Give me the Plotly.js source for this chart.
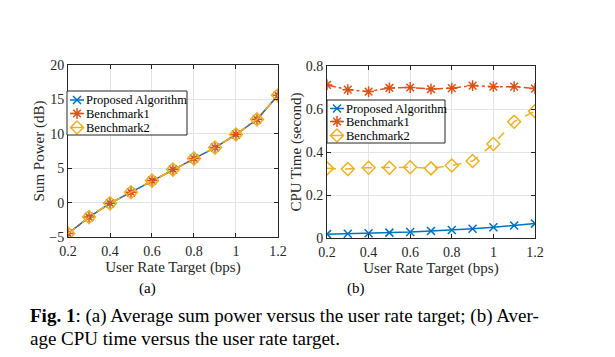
<!DOCTYPE html>
<html>
<head>
<meta charset="utf-8">
<script src="https://cdn.plot.ly/plotly-3.0.1.min.js"></script>
<style>
  html, body { margin: 0; padding: 0; background: #fff; }
  #chart { width: 615px; height: 357px; }
</style>
</head>
<body>
<div id="chart"></div>
<script>
// user rate target (bps)
var rateTarget = [0.2, 0.3, 0.4, 0.5, 0.6, 0.7, 0.8, 0.9, 1.0, 1.1, 1.2];

// (a) sum power (dB)
var powerProposed = [-4.5, -2.1, -0.1, 1.5, 3.2, 4.8, 6.4, 8.0, 9.9, 12.1, 15.6];
var powerBench1   = [-4.5, -2.1, -0.1, 1.5, 3.2, 4.8, 6.4, 8.0, 9.9, 12.1, 15.6];
var powerBench2   = [-4.5, -2.1, -0.1, 1.5, 3.2, 4.8, 6.4, 8.0, 9.9, 12.1, 15.6];

// (b) cpu time (second)
var cpuProposed = [0.018, 0.020, 0.022, 0.025, 0.028, 0.033, 0.037, 0.043, 0.050, 0.058, 0.067];
var cpuBench1   = [0.712, 0.690, 0.681, 0.698, 0.700, 0.693, 0.697, 0.709, 0.704, 0.704, 0.695];
var cpuBench2   = [0.324, 0.321, 0.327, 0.327, 0.329, 0.324, 0.337, 0.358, 0.437, 0.541, 0.590];

var seriesNames = ["Proposed Algorithm", "Benchmark1", "Benchmark2"];

var xTicks = [0.2, 0.4, 0.6, 0.8, 1, 1.2];
var xTickText = ["0.2", "0.4", "0.6", "0.8", "1", "1.2"];
var yTicksA = [-5, 0, 5, 10, 15, 20];
var yTicksB = [0, 0.2, 0.4, 0.6, 0.8];
var yTickTextB = ["0", "0.2", "0.4", "0.6", "0.8"];

var colors = ["#0072BD", "#D95319", "#EDB120"];
var dashes = ["solid", "dashdot", "dash"];
var symbols = ["x-thin-open", "asterisk-open", "diamond-open"];
var sizes = [8, 9, 10];
var serif = "Liberation Serif";

function mk(y, i, xa, ya) {
  return {
    x: rateTarget, y: y, name: seriesNames[i], xaxis: xa, yaxis: ya,
    type: "scatter", mode: "lines+markers", showlegend: false,
    line: {color: colors[i], width: 1.5, dash: dashes[i]},
    marker: {symbol: symbols[i], size: sizes[i], color: colors[i], line: {color: colors[i], width: 1.5}}
  };
}

var data = [
  mk(powerProposed, 0, "x", "y"),
  mk(powerBench1, 1, "x", "y"),
  mk(powerBench2, 2, "x", "y"),
  mk(cpuProposed, 0, "x2", "y2"),
  mk(cpuBench1, 1, "x2", "y2"),
  mk(cpuBench2, 2, "x2", "y2")
];

// compact MATLAB-style legends, drawn on small hidden axes (x3/y3 and x4/y4)
var annotations = [];
var shapes = [];
function legendBox(xa, ya, w, h, rows, px) {
  data.push({
    x: [0, w, w, 0, 0], y: [0, 0, h, h, 0], xaxis: xa, yaxis: ya,
    type: "scatter", mode: "lines", fill: "toself", fillcolor: "#ffffff",
    line: {color: "#ffffff", width: 0}, showlegend: false
  });
  shapes.push({type: "rect", xref: "paper", yref: "paper", layer: "above",
    x0: px[0] / 615, x1: px[1] / 615, y0: 1 - px[3] / 357, y1: 1 - px[2] / 357,
    line: {color: "#262626", width: 1}, fillcolor: "rgba(0,0,0,0)"});
  for (var i = 0; i < 3; i++) {
    data.push({
      x: [3, 17], y: [rows[i], rows[i]], xaxis: xa, yaxis: ya,
      type: "scatter", mode: "lines", showlegend: false,
      line: {color: colors[i], width: 1.5}
    });
    data.push({
      x: [10], y: [rows[i]], xaxis: xa, yaxis: ya,
      type: "scatter", mode: "markers", showlegend: false,
      marker: {symbol: symbols[i], size: sizes[i], color: colors[i], line: {color: colors[i], width: 1.5}}
    });
    annotations.push({text: seriesNames[i], xref: xa, yref: ya, x: 18, y: rows[i],
      xanchor: "left", yanchor: "middle", showarrow: false, borderpad: 0,
      font: {family: serif, size: 12.5, color: "#000"}});
  }
}
legendBox("x3", "y3", 120, 44, [9, 22.5, 36.5], [67, 187, 91, 135]);
legendBox("x4", "y4", 118, 43, [8.5, 21.5, 35.5], [327, 445, 100, 143]);

function axis(extra) {
  var a = {
    showline: true, mirror: "ticks", linecolor: "#262626", linewidth: 1,
    ticks: "inside", ticklen: 4, tickcolor: "#262626",
    showgrid: true, gridcolor: "#e3e3e3", zeroline: false,
    tickfont: {family: serif, size: 14, color: "#262626"},
    automargin: false
  };
  for (var k in extra) a[k] = extra[k];
  return a;
}

function hidden(domain, range, anchor) {
  return {domain: domain, range: range, anchor: anchor, visible: false};
}

var titleFont = {family: serif, size: 15, color: "#262626"};

var layout = {
  width: 615, height: 357,
  margin: {l: 0, r: 0, t: 0, b: 0},
  paper_bgcolor: "#fff", plot_bgcolor: "rgba(0,0,0,0)",
  font: {family: serif, color: "#000"},
  showlegend: false,
  xaxis: axis({domain: [0.1106, 0.452], range: [0.2, 1.2], tickvals: xTicks, ticktext: xTickText, anchor: "y",
    ticklabelstandoff: 1, title: {text: "User Rate Target (bps)", font: titleFont, standoff: 2}}),
  yaxis: axis({domain: [0.336, 0.818], range: [-5, 20], tickvals: yTicksA, anchor: "x",
    title: {text: "Sum Power (dB)", font: titleFont, standoff: 1}}),
  xaxis2: axis({domain: [0.5317, 0.8699], range: [0.2, 1.2], tickvals: xTicks, ticktext: xTickText, anchor: "y2",
    ticklabelstandoff: 1, title: {text: "User Rate Target (bps)", font: titleFont, standoff: 2}}),
  yaxis2: axis({domain: [0.3333, 0.8151], range: [0, 0.8], tickvals: yTicksB, ticktext: yTickTextB, anchor: "x2",
    title: {text: "CPU Time (second)", font: titleFont, standoff: 0}}),
  xaxis3: hidden([66 / 615, 188 / 615], [-1, 121], "y3"),
  yaxis3: hidden([1 - 136 / 357, 1 - 90 / 357], [45, -1], "x3"),
  xaxis4: hidden([326 / 615, 446 / 615], [-1, 119], "y4"),
  yaxis4: hidden([1 - 144 / 357, 1 - 99 / 357], [44, -1], "x4"),
  shapes: shapes,
  annotations: annotations.concat([
    {text: "(a)", x: 137 / 615, y: 1 - 288 / 357, xref: "paper", yref: "paper", yanchor: "middle",
     showarrow: false, font: {family: serif, size: 15}},
    {text: "(b)", x: 356 / 615, y: 1 - 288 / 357, xref: "paper", yref: "paper", yanchor: "middle",
     showarrow: false, font: {family: serif, size: 15}},
    {text: "<b>Fig. 1</b>: (a) Average sum power versus the user rate target; (b) Aver-",
     x: 28 / 615, y: 1 - 316 / 357, xref: "paper", yref: "paper", xanchor: "left", yanchor: "middle",
     showarrow: false, font: {family: serif, size: 19}},
    {text: "age CPU time versus the user rate target.",
     x: 28 / 615, y: 1 - 338 / 357, xref: "paper", yref: "paper", xanchor: "left", yanchor: "middle",
     showarrow: false, font: {family: serif, size: 19}}
  ])
};

Plotly.newPlot("chart", data, layout, {displayModeBar: false, staticPlot: true});
</script>
</body>
</html>
